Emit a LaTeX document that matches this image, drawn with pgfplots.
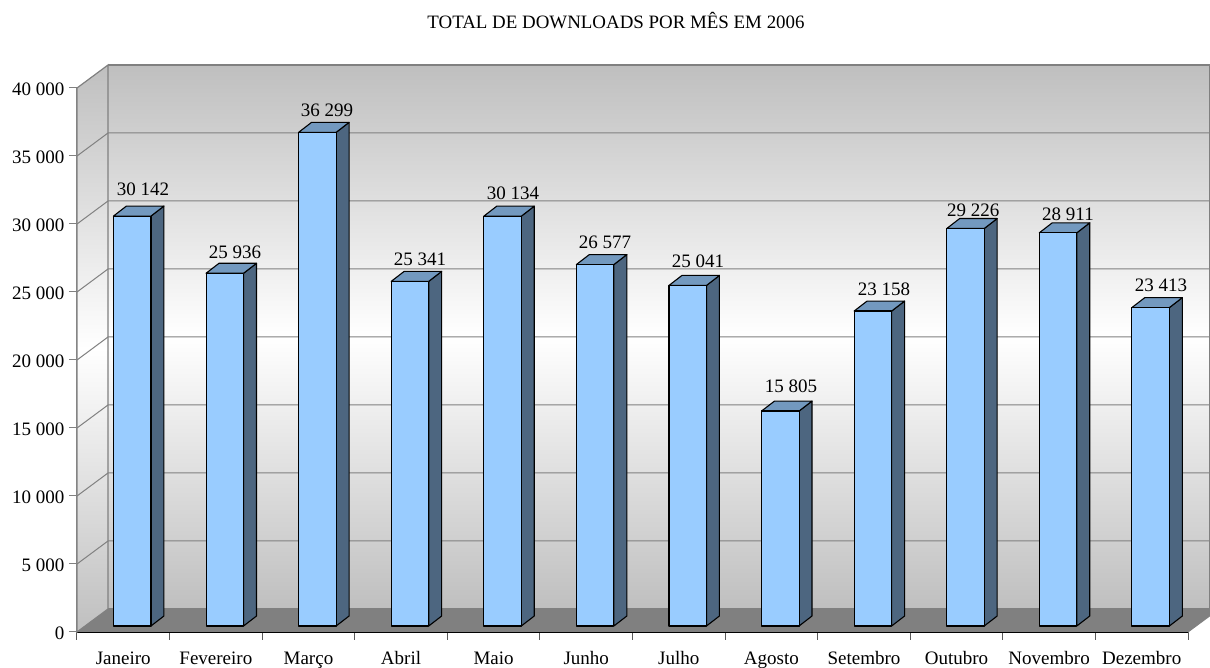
\documentclass[border=0pt]{standalone}
\usepackage{fontspec}
\setmainfont{Liberation Serif}
\usepackage{pgfplots}
\pgfplotsset{compat=1.18}
\definecolor{barfront}{HTML}{99CCFF}
\definecolor{barside}{HTML}{4D6680}
\definecolor{bartop}{HTML}{7399BF}
\definecolor{wallgrey}{HTML}{BFBFBF}
\definecolor{gridgrey}{HTML}{808080}
\definecolor{floorgrey}{HTML}{808080}
% one 3D column: #1 left edge (category units), #2 value
\newcommand{\threedbar}[2]{%
  \pgfmathsetmacro{\xa}{#1}%
  \pgfmathsetmacro{\xb}{#1+0.405}%
  \pgfmathsetmacro{\xc}{#1+0.405+0.14}%
  \pgfmathsetmacro{\xd}{#1+0.14}%
  \edef\ya{441}%
  \edef\yb{\the\numexpr441+#2\relax}%
  \edef\yc{\the\numexpr441+735\relax}%
  \edef\yd{\the\numexpr441+#2+735\relax}%
  \edef\temp{%
    \noexpand\addplot[fill=barside,draw=black,line width=1.1pt,line join=round] coordinates {(\xb,\ya)(\xc,\yc)(\xc,\yd)(\xb,\yb)} -- cycle;
    \noexpand\addplot[fill=bartop,draw=black,line width=1.1pt,line join=round] coordinates {(\xa,\yb)(\xb,\yb)(\xc,\yd)(\xd,\yd)} -- cycle;
    \noexpand\addplot[fill=barfront,draw=black,line width=1.1pt,line join=round] coordinates {(\xa,\ya)(\xb,\ya)(\xb,\yb)(\xa,\yb)} -- cycle;
  }\temp
}
\begin{document}
\begin{tikzpicture}[x=1pt,y=1pt]
\path[use as bounding box] (0,0) rectangle (1210,668);
\begin{axis}[
  at={(77pt,36pt)},anchor=origin,
  scale only axis,width=1111pt,height=544pt,
  xmin=0,xmax=12,ymin=0,ymax=40000,
  clip=false,
  axis x line*=bottom,axis y line*=left,
  axis line style={-},
  x axis line style={black,line width=1.2pt},
  y axis line style={gridgrey,line width=1.2pt},
  tick align=outside,
  xtick={0.5,1.5,2.5,3.5,4.5,5.5,6.5,7.5,8.5,9.5,10.5,11.5},
  xticklabels={Janeiro,Fevereiro,Março,Abril,Maio,Junho,Julho,Agosto,Setembro,Outubro,Novembro,Dezembro},
  minor xtick={0,1,...,12},
  major x tick style={draw=none},
  minor tick length=8pt,
  every minor tick/.style={draw=black!65,line width=1pt},
  ytick={0,5000,...,40000},
  major tick length=8pt,
  y tick style={draw=gridgrey,line width=1pt},
  scaled y ticks=false,
  ticklabel style={font=\fontsize{19}{22}\selectfont},
  xticklabel style={yshift=-8pt,text height=13pt,text depth=5pt},
  yticklabel style={xshift=-1pt,yshift=-1pt,/pgf/number format/fixed,/pgf/number format/1000 sep={\ },/pgf/number format/assume math mode=true},
  title={TOTAL DE DOWNLOADS POR MÊS EM 2006},
  title style={at={(axis cs:5.822,44485)},anchor=center,font=\fontsize{18.9}{22}\selectfont},
]
% walls and floor
\addplot[draw=gridgrey,line width=1.2pt,top color=wallgrey,bottom color=wallgrey,middle color=white] coordinates {(0.335,1691)(12.238,1691)(12.238,41691)(0.335,41691)};
\addplot[draw=gridgrey,line width=1.2pt,top color=wallgrey,bottom color=wallgrey,middle color=white] coordinates {(0,0)(0.335,1691)(0.335,41691)(0,40000)} -- cycle;
\pgfplotsinvokeforeach{5000,10000,15000,20000,25000,30000,35000}{
  \edef\yb{\the\numexpr#1+1691\relax}
  \edef\temp{\noexpand\addplot[draw=gridgrey,line width=1pt] coordinates {(0,#1)(0.335,\yb)(12.238,\yb)};}\temp
}
\addplot[fill=floorgrey,draw=none] coordinates {(0,0)(0.335,1691)(12.238,1691)(12.238,1199)(12,0)} -- cycle;
\addplot[draw=gridgrey,line width=1pt] coordinates {(12,0)(12.238,1199)};
% columns
\threedbar{0.394}{30142}
\threedbar{1.394}{25936}
\threedbar{2.394}{36299}
\threedbar{3.394}{25341}
\threedbar{4.394}{30134}
\threedbar{5.394}{26577}
\threedbar{6.394}{25041}
\threedbar{7.394}{15805}
\threedbar{8.394}{23158}
\threedbar{9.394}{29226}
\threedbar{10.394}{28911}
\threedbar{11.394}{23413}
% value labels: x, label height, value
\addplot[draw=none,mark=none,point meta=explicit,
  nodes near coords={\pgfmathprintnumber[fixed,assume math mode=true,1000 sep={\ }]{\pgfplotspointmeta}},
  every node near coord/.style={anchor=center,inner sep=0pt,font=\fontsize{19}{22}\selectfont,text=black}]
  table[x=x,y=y,meta=v] {
x y v
0.713 32574 30142
1.707 27941 25936
2.700 38382 36299
3.704 27427 25341
4.709 32280 30134
5.703 28677 26577
6.707 27280 25041
7.713 18088 15805
8.717 25221 23158
9.680 31030 29226
10.704 30736 28911
11.709 25515 23413
};
\end{axis}
\end{tikzpicture}
\end{document}
